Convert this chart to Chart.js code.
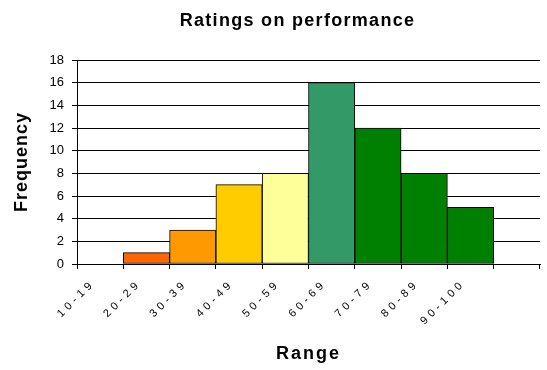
<!DOCTYPE html>
<html>
<head>
<meta charset="utf-8">
<script src="https://cdn.jsdelivr.net/npm/chart.js@4/dist/chart.umd.min.js"></script>
<style>
  html, body { margin: 0; padding: 0; background: #ffffff; }
  canvas { display: block; }
</style>
</head>
<body>
<canvas id="chart" width="547" height="370"></canvas>
<script>
// Score ranges (the last slot is an empty category at the end of the axis)
const ranges = ['10-19', '20-29', '30-39', '40-49', '50-59', '60-69', '70-79', '80-89', '90-100', ''];
// Number of ratings per range
const frequency = [0, 1, 3, 7, 8, 16, 12, 8, 5, null];
// Fill colour for each bar
const barColors = ['#FF6600', '#FF6600', '#FF9900', '#FFCC00', '#FFFF99', '#339966', '#008000', '#008000', '#008000', '#008000'];
// Y axis tick values
const yTicks = [0, 2, 4, 6, 8, 10, 12, 14, 16, 18];

const FONT = 'Arial, "Liberation Sans", sans-serif';

// Wraps a draw method so its text is drawn with extra letter spacing
// (and an optional horizontal shift).
function withSpacing(obj, method, spacing, dx) {
  if (!obj || obj['__spaced_' + method]) return;
  const orig = obj[method];
  obj[method] = function (...args) {
    const ctx = this.ctx;
    ctx.save();
    ctx.letterSpacing = spacing;
    if (dx) ctx.translate(dx, 0);
    const r = orig.apply(this, args);
    ctx.restore();
    return r;
  };
  obj['__spaced_' + method] = true;
}

const spacedText = {
  id: 'spacedText',
  afterLayout(chart) {
    withSpacing(chart.titleBlock, 'draw', '1.3px', -11);
    withSpacing(chart.scales.x, 'drawLabels', '4px', -7);
    withSpacing(chart.scales.x, 'drawTitle', '2px', 0);
    withSpacing(chart.scales.y, 'drawTitle', '1px', 0);
  }
};

new Chart(document.getElementById('chart'), {
  type: 'bar',
  data: {
    labels: ranges,
    datasets: [{
      label: 'Frequency',
      data: frequency,
      backgroundColor: barColors,
      borderColor: '#000000',
      borderWidth: 1,
      borderSkipped: false,
      barPercentage: 1.0,
      categoryPercentage: 1.0
    }]
  },
  plugins: [spacedText],
  options: {
    responsive: false,
    animation: false,
    devicePixelRatio: 1,
    layout: { padding: { left: 0, right: 7, top: 0, bottom: 0 } },
    plugins: {
      legend: { display: false },
      tooltip: { enabled: false },
      title: {
        display: true,
        fullSize: false,
        text: 'Ratings on performance',
        color: '#000000',
        font: { family: FONT, size: 18, weight: 'bold', lineHeight: 1.2 },
        padding: { top: 10, bottom: 28.4 }
      }
    },
    scales: {
      x: {
        offset: true,
        grid: {
          display: true,
          offset: true,
          drawOnChartArea: false,
          drawTicks: true,
          tickLength: 5,
          color: '#000000'
        },
        border: { display: true, color: '#000000', width: 1 },
        ticks: {
          color: '#000000',
          font: { family: FONT, size: 11 },
          minRotation: 45,
          maxRotation: 45,
          autoSkip: false,
          padding: 8
        },
        title: {
          display: true,
          text: 'Range',
          color: '#000000',
          font: { family: FONT, size: 18, weight: 'bold', lineHeight: 1.2 },
          padding: { top: 4, bottom: 5 }
        },
        afterFit: (scale) => { scale.height = 106; }
      },
      y: {
        min: 0,
        max: 18,
        afterBuildTicks: (scale) => { scale.ticks = yTicks.map(v => ({ value: v })); },
        grid: {
          display: true,
          color: '#000000',
          lineWidth: 1,
          drawTicks: true,
          tickLength: 5
        },
        border: { display: true, color: '#000000', width: 1 },
        ticks: {
          color: '#000000',
          font: { family: FONT, size: 13 },
          padding: 8
        },
        title: {
          display: true,
          text: 'Frequency',
          color: '#000000',
          font: { family: FONT, size: 18, weight: 'bold', lineHeight: 1.2 },
          padding: { top: 11, bottom: 4 }
        },
        afterFit: (scale) => { scale.width = 77; }
      }
    }
  }
});
</script>
</body>
</html>
